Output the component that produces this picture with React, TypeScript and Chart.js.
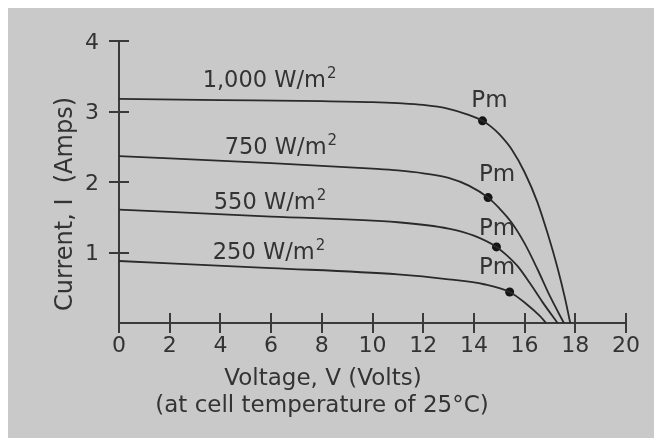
import React, { useEffect, useRef } from 'react';
import { Chart, registerables } from 'chart.js';

Chart.register(...registerables);

// ---- data ----
const X_MIN = 0;
const X_MAX = 20;
const X_STEP = 2;
const Y_MIN = 0;
const Y_MAX = 4;
const Y_STEP = 1;

const IRRADIANCE = ['1,000', '750', '550', '250'];

const V_1000 = [0, 4, 8, 10, 11, 12, 13, 13.7, 14.34, 14.7, 15.0, 15.5, 16.0, 16.5, 16.9, 17.3, 17.6, 17.8];
const I_1000 = [3.18, 3.165, 3.15, 3.135, 3.12, 3.095, 3.04, 2.965, 2.87, 2.78, 2.68, 2.46, 2.14, 1.72, 1.28, 0.78, 0.34, 0];

const V_750 = [0, 6, 10, 11, 12, 13, 13.8, 14.56, 15.0, 15.5, 16.0, 16.5, 17.0, 17.55];
const I_750 = [2.37, 2.27, 2.19, 2.165, 2.125, 2.06, 1.95, 1.78, 1.63, 1.42, 1.13, 0.77, 0.38, 0];

const V_550 = [0, 6, 11, 13, 14, 14.89, 15.3, 15.74, 16.2, 16.7, 17.3];
const I_550 = [1.61, 1.51, 1.43, 1.34, 1.24, 1.08, 0.96, 0.8, 0.57, 0.3, 0];

const V_250 = [0, 6, 11, 13, 14.4, 15.41, 16.07, 16.6, 16.85];
const I_250 = [0.88, 0.78, 0.69, 0.62, 0.55, 0.44, 0.27, 0.1, 0];

const PM_V = [14.34, 14.56, 14.89, 15.41];
const PM_I = [2.87, 1.78, 1.08, 0.44];

const Y_TITLE = 'Current, I  (Amps)';
const X_TITLE_1 = 'Voltage, V (Volts)';
const X_TITLE_2 = '(at cell temperature of 25°C)';
const PM_TEXT = 'Pm';

// annotation anchors in data coordinates (left edge, baseline)
const CURVE_LABEL_AT = [
  { v: 3.3, i: 3.35 },
  { v: 4.17, i: 2.4 },
  { v: 3.74, i: 1.62 },
  { v: 3.7, i: 0.915 },
];
const PM_LABEL_AT = [
  { v: 13.9, i: 3.07 },
  { v: 14.2, i: 2.02 },
  { v: 14.2, i: 1.25 },
  { v: 14.2, i: 0.69 },
];

// ---- styles ----
const FONT = "'DejaVu Sans'";
const BG = '#c9c9c9';
const INK = '#333333';
const LINE = '#2a2a2a';

const zip = (vs: number[], is: number[]) => vs.map((v, k) => ({ x: v, y: is[k] }));

const annotate = {
  id: 'annotate',
  afterDraw(chart: any) {
    const { ctx, chartArea } = chart;
    const xs = chart.scales.x;
    const ys = chart.scales.y;
    ctx.save();
    // crossing tick marks
    ctx.strokeStyle = '#3a3a3a';
    ctx.lineWidth = 2;
    ctx.beginPath();
    xs.ticks.forEach((t: any) => {
      const px = Math.round(xs.getPixelForValue(t.value));
      ctx.moveTo(px, chartArea.bottom - 10);
      ctx.lineTo(px, chartArea.bottom + 10);
    });
    ys.ticks.forEach((t: any) => {
      if (t.value === 0) return;
      const py = Math.round(ys.getPixelForValue(t.value));
      ctx.moveTo(chartArea.left - 10, py);
      ctx.lineTo(chartArea.left + 10, py);
    });
    ctx.stroke();

    ctx.fillStyle = INK;
    ctx.textBaseline = 'alphabetic';
    ctx.textAlign = 'left';
    // curve labels with superscript
    IRRADIANCE.forEach((irr, k) => {
      const a = CURVE_LABEL_AT[k];
      const px = xs.getPixelForValue(a.v);
      const py = ys.getPixelForValue(a.i);
      ctx.font = `22.5px ${FONT}`;
      const main = `${irr} W/m`;
      ctx.fillText(main, px, py);
      const w = ctx.measureText(main).width;
      ctx.font = `15px ${FONT}`;
      ctx.fillText('2', px + w + 1, py - 9);
    });
    // Pm labels
    ctx.font = `23px ${FONT}`;
    PM_LABEL_AT.forEach((a) => {
      ctx.fillText(PM_TEXT, xs.getPixelForValue(a.v), ys.getPixelForValue(a.i));
    });
    // x-axis titles
    ctx.textAlign = 'center';
    ctx.font = `23px ${FONT}`;
    ctx.fillText(X_TITLE_1, 315, 377);
    ctx.fillText(X_TITLE_2, 314, 404);
    // y-axis title
    ctx.translate(64, 303);
    ctx.rotate(-Math.PI / 2);
    ctx.textAlign = 'left';
    ctx.font = `24px ${FONT}`;
    ctx.fillText(Y_TITLE, 0, 0);
    ctx.restore();
  },
};

export default function App() {
  const ref = useRef<HTMLCanvasElement | null>(null);
  useEffect(() => {
    if (!ref.current) return;
    Chart.defaults.font.family = FONT;
    const curve = (vs: number[], is: number[]) => ({
      data: zip(vs, is),
      borderColor: LINE,
      borderWidth: 1.8,
      pointRadius: 0,
      cubicInterpolationMode: 'monotone' as const,
      fill: false,
      clip: false as any,
    });
    const chart = new Chart(ref.current, {
      type: 'line',
      data: {
        datasets: [
          curve(V_1000, I_1000),
          curve(V_750, I_750),
          curve(V_550, I_550),
          curve(V_250, I_250),
          {
            data: zip(PM_V, PM_I),
            showLine: false,
            pointRadius: 4.5,
            pointBackgroundColor: '#151515',
            pointBorderWidth: 0,
            borderColor: '#151515',
            clip: false as any,
          },
        ],
      },
      options: {
        responsive: false,
        animation: false,
        events: [],
        layout: { padding: { left: 0, top: 29, right: 36, bottom: 0 } },
        plugins: { legend: { display: false }, tooltip: { enabled: false }, title: { display: false } },
        scales: {
          x: {
            type: 'linear',
            min: X_MIN,
            max: X_MAX,
            ticks: { stepSize: X_STEP, color: INK, font: { size: 22, family: FONT }, padding: 10, maxRotation: 0 },
            grid: { display: false, drawTicks: false },
            border: { display: true, color: '#3a3a3a', width: 2 },
            afterFit: (s: any) => { s.height = 115; },
          },
          y: {
            type: 'linear',
            min: Y_MIN,
            max: Y_MAX,
            ticks: {
              stepSize: Y_STEP,
              color: INK,
              font: { size: 22, family: FONT },
              padding: 20,
              labelOffset: 2,
              callback: (v: any) => (v === 0 ? '' : String(v)),
            },
            grid: { display: false, drawTicks: false },
            border: { display: true, color: '#3a3a3a', width: 2 },
            afterFit: (s: any) => { s.width = 111; },
          },
        },
      },
      plugins: [annotate],
    });
    return () => chart.destroy();
  }, []);
  return (
    <canvas
      ref={ref}
      width={654}
      height={430}
      style={{ display: 'block', width: 654, height: 430, background: BG }}
    />
  );
}
